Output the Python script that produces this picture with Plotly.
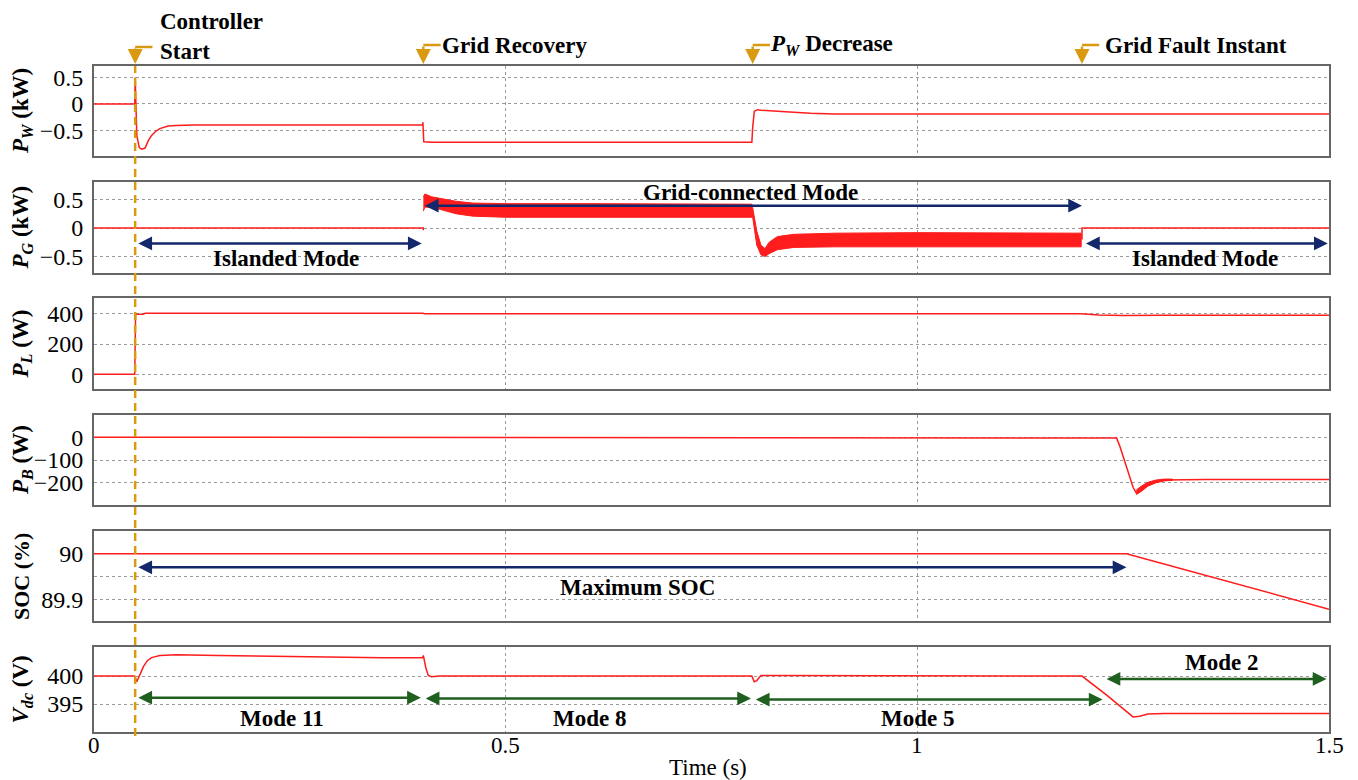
import plotly.graph_objects as go
from plotly.subplots import make_subplots

# ---------------- time series (s, value) ----------------
# Wind power P_W (kW)
t_pw = [0, 0.0495, 0.0500, 0.0505, 0.052, 0.055, 0.058, 0.062, 0.066, 0.070, 0.075,
        0.080, 0.085, 0.090, 0.100, 0.120, 0.200, 0.399, 0.3995, 0.4005, 0.41, 0.5,
        0.6, 0.7, 0.799, 0.800, 0.802, 0.806, 0.81, 0.83, 0.85, 0.87, 0.90, 1.0, 1.5]
pw = [0, 0, 0.50, 0.20, -0.60, -0.83, -0.86, -0.84, -0.70, -0.60, -0.52,
      -0.47, -0.44, -0.42, -0.41, -0.40, -0.40, -0.40, -0.35, -0.72, -0.73, -0.73,
      -0.72, -0.73, -0.73, -0.45, -0.14, -0.11, -0.12, -0.14, -0.16, -0.18, -0.19, -0.19, -0.19]

# Grid power P_G (kW): flat segments and the noisy envelope while grid-connected
t_pg_flat = [0, 0.4, 0.4, None, 1.2, 1.2, 1.5]
pg_flat = [0, 0, -0.04, None, -0.20, 0, 0]
t_pg_band = [0.400, 0.402, 0.41, 0.42, 0.44, 0.46, 0.50, 0.60, 0.70, 0.799, 0.800,
             0.805, 0.81, 0.815, 0.82, 0.83, 0.85, 0.90, 1.00, 1.10, 1.199]
pg_upper = [0.55, 0.60, 0.55, 0.52, 0.47, 0.44, 0.43, 0.43, 0.43, 0.42, 0.36,
            -0.05, -0.30, -0.36, -0.25, -0.15, -0.11, -0.09, -0.08, -0.09, -0.09]
pg_lower = [0.30, 0.37, 0.36, 0.33, 0.25, 0.21, 0.19, 0.18, 0.18, 0.19, 0.19,
            -0.30, -0.47, -0.50, -0.45, -0.38, -0.34, -0.33, -0.32, -0.33, -0.33]

# Load power P_L (W)
t_pl = [0, 0.0495, 0.0500, 0.0505, 0.060, 0.062, 0.400, 0.401, 1.199, 1.22, 1.25, 1.30, 1.5]
pl = [0, 0, 200, 398, 398, 403, 403, 400, 400, 392, 389, 391, 391]

# Battery power P_B (W)
t_pb = [0, 1.240, 1.242, 1.246, 1.252, 1.258, 1.262, 1.266, 1.270, 1.280, 1.290,
        1.300, 1.350, 1.5]
pb = [0, 0, -3, -40, -110, -180, -220, -245, -232, -205, -193, -188, -186, -186]
t_pb_band = [1.266, 1.272, 1.280, 1.290, 1.300, 1.310]
pb_upper = [-232, -215, -198, -188, -184, -184]
pb_lower = [-252, -238, -215, -200, -192, -189]

# Battery state of charge (%)
t_soc = [0, 1.254, 1.5]
soc = [90.0, 90.0, 89.878]

# DC-link voltage V_dc (V)
t_vdc = [0, 0.0495, 0.052, 0.055, 0.060, 0.065, 0.070, 0.080, 0.090, 0.100, 0.150,
         0.200, 0.250, 0.300, 0.350, 0.399, 0.400, 0.403, 0.406, 0.410, 0.420, 0.600,
         0.799, 0.802, 0.805, 0.810, 0.820, 0.900, 1.200, 1.230, 1.262, 1.270, 1.280,
         1.300, 1.5]
vdc = [400, 400, 399.0, 400.0, 401.7, 402.8, 403.3, 403.7, 403.8, 403.8, 403.7,
       403.6, 403.4, 403.4, 403.3, 403.3, 403.7, 401.5, 400.1, 399.9, 400.0, 400.0,
       400.0, 399.0, 399.2, 400.1, 400.1, 400.0, 400.0, 396.6, 392.7, 392.8, 393.2,
       393.3, 393.3]

# Event instants (s)
t_start, t_recovery, t_pw_drop, t_fault = 0.05, 0.40, 0.80, 1.20
t_soc_fall, t_mode2 = 1.254, 1.228

# ---------------- axes set-up ----------------
x_ticks = [0, 0.5, 1, 1.5]
x_ticktext = ["0", "0.5", "1", "1.5"]
y_ranges = [[-0.99, 0.72], [-0.79, 0.81], [-98, 505], [-298, 98], [89.852, 90.05], [390, 405.2]]
y_ticks = [[-0.5, 0, 0.5], [-0.5, 0, 0.5], [0, 200, 400], [-200, -100, 0],
           [89.9, 89.95, 90, 90.05], [395, 400]]
y_ticktext = [["\u22120.5", "0", "0.5"], ["\u22120.5", "0", "0.5"], ["0", "200", "400"],
              ["\u2212200", "\u2212100", "0"], ["89.9", "", "90", ""], ["395", "400"]]
y_titles = ["<b><i>P</i><sub><i>W</i></sub> (kW)</b>",
            "<b><i>P</i><sub><i>G</i></sub> (kW)</b>",
            "<b><i>P</i><sub><i>L</i></sub> (W)</b>",
            "<b><i>P</i><sub><i>B</i></sub> (W)</b>",
            "<b>SOC (%)</b>",
            "<b><i>V</i><sub><i>dc</i></sub> (V)</b>"]
title_sizes = [23, 23, 23, 23, 22, 23]
domains = [[0.8649, 1.0], [0.6892, 0.8258], [0.5150, 0.6517],
           [0.3408, 0.4760], [0.1667, 0.3018], [0.0, 0.1276]]

RED = "#ff1c1c"
ORANGE = "#d99a12"
NAVY = "#13286b"
GREEN = "#1f5f1f"
FONT = "Liberation Serif, Times New Roman, serif"

PLOT_TOP, PLOT_H = 66, 666   # pixel offsets of the plotting area


def paper_y(px):
    """Vertical pixel position (from the top of the page) -> paper coordinate."""
    return (PLOT_TOP + PLOT_H - px) / PLOT_H


fig = make_subplots(rows=6, cols=1, shared_xaxes=True, vertical_spacing=0.02)


def line(x, y, row):
    fig.add_trace(go.Scatter(x=x, y=y, mode="lines", line=dict(color=RED, width=1.5),
                             hoverinfo="skip", connectgaps=False), row=row, col=1)


def band(x, upper, lower, row):
    fig.add_trace(go.Scatter(x=list(x) + list(x)[::-1], y=list(upper) + list(lower)[::-1],
                             mode="lines", fill="toself", fillcolor=RED,
                             line=dict(color=RED, width=1), hoverinfo="skip"), row=row, col=1)


line(t_pw, pw, 1)
line(t_pg_flat, pg_flat, 2)
band(t_pg_band, pg_upper, pg_lower, 2)
line(t_pl, pl, 3)
line(t_pb, pb, 4)
band(t_pb_band, pb_upper, pb_lower, 4)
line(t_soc, soc, 5)
line(t_vdc, vdc, 6)

for i in range(6):
    n = "" if i == 0 else str(i + 1)
    fig.layout["xaxis" + n].update(
        range=[0, 1.5], tickvals=x_ticks,
        showgrid=True, gridcolor="#9a9a9a", griddash="dot", gridwidth=1,
        showline=True, mirror=True, linecolor="#666666", linewidth=2,
        zeroline=False, ticks="", showticklabels=False)
    fig.layout["yaxis" + n].update(
        range=y_ranges[i], domain=domains[i], tickvals=y_ticks[i], ticktext=y_ticktext[i],
        showgrid=True, gridcolor="#9a9a9a", griddash="dot", gridwidth=1,
        showline=True, mirror=True, linecolor="#666666", linewidth=2,
        zeroline=False, ticks="", ticklabelstandoff=4,
        tickfont=dict(size=24, family=FONT))
    mid = (domains[i][0] + domains[i][1]) / 2
    fig.add_annotation(x=-0.0583, y=mid, xref="paper", yref="paper", text=y_titles[i],
                       textangle=-90, showarrow=False, xanchor="center", yanchor="middle",
                       font=dict(size=title_sizes[i], family=FONT))

# time-axis labels sit close under the bottom panel
for xv, txt in zip(x_ticks, x_ticktext):
    fig.add_annotation(x=xv, y=paper_y(745), xref="x6", yref="paper", text=txt,
                       showarrow=False, xanchor="center", yanchor="middle",
                       font=dict(size=23, family=FONT))
fig.add_annotation(x=0.497, y=paper_y(768), xref="paper", yref="paper", text="Time (s)",
                   showarrow=False, xanchor="center", yanchor="middle",
                   font=dict(size=23, family=FONT))

# ---------------- event markers along the top ----------------
fig.add_shape(type="line", xref="x", yref="paper", x0=t_start, x1=t_start, y0=-0.006, y1=1.0,
              line=dict(color=ORANGE, width=2.5, dash="8px,5px"))

marker_px = {t_start: 47, t_recovery: 45, t_pw_drop: 45, t_fault: 45}
head_px = 64
for te, px in marker_px.items():
    yy = paper_y(px)
    fig.add_shape(type="line", xref="x", yref="paper", x0=te, x1=te + 0.021, y0=yy, y1=yy,
                  line=dict(color=ORANGE, width=2.5))
    fig.add_annotation(x=te, y=paper_y(head_px), xref="x", yref="paper",
                       ax=0, ay=px - head_px, axref="pixel", ayref="pixel",
                       text="", showarrow=True,
                       arrowhead=2, arrowsize=1.2, arrowwidth=2.5, arrowcolor=ORANGE,
                       standoff=0, startstandoff=0)

top_labels = [
    (0.0777, 22, "<b>Controller</b>"),
    (0.0777, 51, "<b>Start</b>"),
    (0.4203, 45, "<b>Grid Recovery</b>"),
    (0.8187, 45, "<b><i>P</i><sub><i>W</i></sub> Decrease</b>"),
    (1.2256, 45, "<b>Grid Fault Instant</b>"),
]
for xx, px, txt in top_labels:
    fig.add_annotation(x=xx, y=paper_y(px), xref="x", yref="paper", text=txt, showarrow=False,
                       xanchor="left", yanchor="middle", font=dict(size=23, family=FONT))

# ---------------- operating-mode spans ----------------
spans = [
    # (row, start, end, level, colour)
    (2, t_recovery, t_fault, 0.394, NAVY),
    (2, t_start + 0.002, t_recovery - 0.002, -0.27, NAVY),
    (2, t_fault + 0.003, 1.4985, -0.27, NAVY),
    (5, t_start + 0.002, t_soc_fall, 89.970, NAVY),
    (6, t_start + 0.002, t_recovery - 0.003, 396.14, GREEN),
    (6, t_recovery + 0.001, t_pw_drop - 0.002, 396.0, GREEN),
    (6, t_pw_drop + 0.002, t_mode2 - 0.003, 395.8, GREEN),
    (6, t_mode2, 1.497, 399.5, GREEN),
]
for row, a, b, lvl, col in spans:
    xr, yr = "x%d" % row, "y%d" % row
    fig.add_annotation(x=b, y=lvl, ax=a, ay=lvl, xref=xr, yref=yr, axref=xr, ayref=yr,
                       text="", showarrow=True, arrowhead=2, arrowside="end+start",
                       arrowsize=1.1, arrowwidth=2.5, arrowcolor=col,
                       standoff=0, startstandoff=0)

mode_labels = [
    (2, 0.797, 0.618, "Grid-connected Mode"),
    (2, 0.233, -0.53, "Islanded Mode"),
    (2, 1.349, -0.53, "Islanded Mode"),
    (5, 0.660, 89.925, "Maximum SOC"),
    (6, 0.228, 392.45, "Mode 11"),
    (6, 0.602, 392.45, "Mode 8"),
    (6, 1.000, 392.45, "Mode 5"),
    (6, 1.370, 402.4, "Mode 2"),
]
for row, xx, yy, txt in mode_labels:
    fig.add_annotation(x=xx, y=yy, xref="x%d" % row, yref="y%d" % row, text="<b>%s</b>" % txt,
                       showarrow=False, xanchor="center", yanchor="middle",
                       font=dict(size=23, family=FONT))

fig.update_layout(width=1358, height=780, margin=dict(l=94, r=29, t=PLOT_TOP, b=48),
                  plot_bgcolor="white", paper_bgcolor="white", showlegend=False,
                  font=dict(family=FONT, size=22, color="black"))

fig.write_html("out.html")
